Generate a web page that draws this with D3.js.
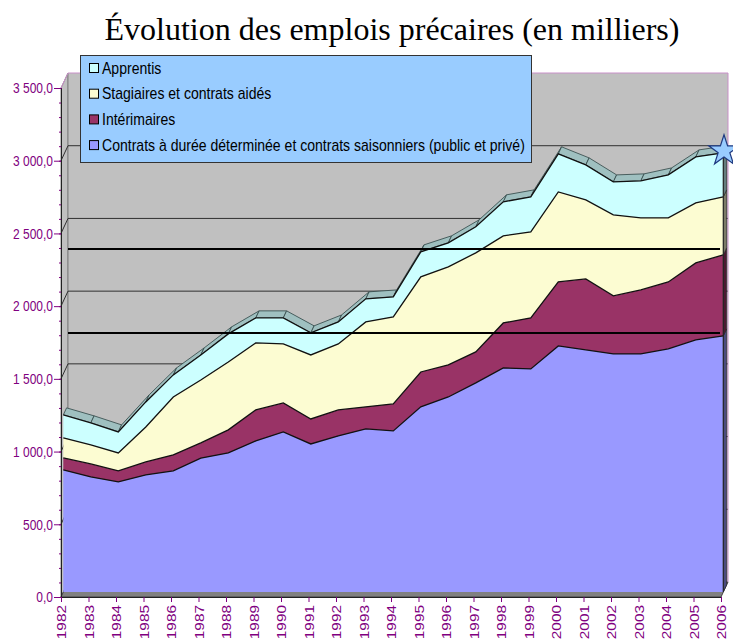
<!DOCTYPE html>
<html>
<head>
<meta charset="utf-8">
<script src="https://cdnjs.cloudflare.com/ajax/libs/d3/7.8.5/d3.min.js"></script>
<style>
    body { margin: 0; background: #fff; }
    svg { display: block; }
</style>
</head>
<body>
<svg></svg>
<script>
let years = [1982, 1983, 1984, 1985, 1986, 1987, 1988, 1989, 1990, 1991, 1992, 1993,
    1994, 1995, 1996, 1997, 1998, 1999, 2000, 2001, 2002, 2003, 2004, 2005, 2006];
let cdd = [839, 791, 757, 805, 833, 920, 956, 1039, 1101, 1018, 1073, 1121,
    1108, 1273, 1341, 1438, 1541, 1534, 1692, 1665, 1637, 1637, 1672, 1734, 1761];
let interimaires = [83, 90, 76, 89, 110, 105, 159, 213, 199, 172, 179, 152,
    185, 240, 221, 213, 309, 351, 440, 488, 399, 440, 460, 529, 557];
let stagiaires = [138, 130, 123, 241, 398, 433, 467, 461, 406, 440, 454, 584,
    599, 654, 674, 681, 599, 591, 619, 543, 557, 496, 441, 413, 399];
let apprentis = [158, 152, 145, 172, 152, 172, 193, 172, 179, 152, 151, 159,
    137, 172, 165, 179, 234, 241, 262, 241, 227, 254, 295, 316, 303];

let seriesKeys = ['cdd', 'interimaires', 'stagiaires', 'apprentis'];
let seriesNames = [
    'Contrats à durée déterminée et contrats saisonniers (public et privé)',
    'Intérimaires',
    'Stagiaires et contrats aidés',
    'Apprentis',
];
let seriesColors = ['#9999ff', '#993366', '#fcfcd2', '#ccffff'];
let yTicks = [0, 500, 1000, 1500, 2000, 2500, 3000, 3500];
let reperes = [1815, 2393]; // traits noirs ajoutés sur le graphique

let width = 733;
let height = 641;
let purple = '#800080';
let font = '"Liberation Sans", Arial, sans-serif';

// décalages de profondeur (pseudo 3D)
let wall = { dx: 7, dy: -15 };
let front = { dx: 2.3, dy: -5 };
let back = { dx: 5.6, dy: -12 };

let svg = d3.select('svg').attr('width', width).attr('height', height);

let xScale = d3.scaleLinear().domain([1982, 2006]).range([61, 721]);
let yScale = d3.scaleLinear().domain([0, 3500]).range([597, 88]);

let table = years.map((year, i) => ({
    year: year,
    cdd: cdd[i],
    interimaires: interimaires[i],
    stagiaires: stagiaires[i],
    apprentis: apprentis[i],
}));
let stacked = d3.stack().keys(seriesKeys)(table);

let fr = d3.formatLocale({ decimal: ',', thousands: '\u00a0', grouping: [3] });

// titre
svg.append('text')
    .attr('x', 392)
    .attr('y', 40)
    .attr('text-anchor', 'middle')
    .style('font-family', '"Liberation Serif", "Times New Roman", serif')
    .style('font-size', '32px')
    .text('Évolution des emplois précaires (en milliers)');

// parois
let x0 = xScale(1982);
let x1 = xScale(2006);
let yBottom = yScale(0);
let yTop = yScale(3500);

svg.append('polygon')
    .attr('points', [[x0, yBottom], [x0, yTop], [x0 + wall.dx, yTop + wall.dy], [x0 + wall.dx, yBottom + wall.dy]].join(' '))
    .attr('fill', '#c0c0c0')
    .attr('stroke', '#808080');

svg.append('rect')
    .attr('x', x0 + wall.dx)
    .attr('y', yTop + wall.dy)
    .attr('width', x1 - x0)
    .attr('height', yBottom - yTop)
    .attr('fill', '#c0c0c0');

svg.append('line')
    .attr('x1', x0 + wall.dx).attr('x2', x0 + wall.dx)
    .attr('y1', yTop + wall.dy).attr('y2', yBottom + wall.dy)
    .attr('stroke', '#808080');

svg.append('polygon')
    .attr('points', [[x0, yBottom], [x1, yBottom], [x1 + wall.dx, yBottom + wall.dy], [x0 + wall.dx, yBottom + wall.dy]].join(' '))
    .attr('fill', '#808080')
    .attr('stroke', '#404040');

// quadrillage
let grid = svg.append('g');
yTicks.filter((v) => v > 0).forEach((v) => {
    let c = v === 3500 ? '#c890c8' : '#303030';
    grid.append('line')
        .attr('x1', x0 + wall.dx).attr('x2', x1 + wall.dx)
        .attr('y1', yScale(v) + wall.dy).attr('y2', yScale(v) + wall.dy)
        .attr('stroke', c);
    grid.append('line')
        .attr('x1', x0).attr('x2', x0 + wall.dx)
        .attr('y1', yScale(v)).attr('y2', yScale(v) + wall.dy)
        .attr('stroke', c);
});
grid.append('line')
    .attr('x1', x1 + wall.dx).attr('x2', x1 + wall.dx)
    .attr('y1', yTop + wall.dy).attr('y2', yBottom + wall.dy)
    .attr('stroke', '#c890c8');

// séries
let px = (d) => xScale(d.data.year);
let last = stacked[0].length - 1;

let sides = svg.append('g');
stacked.forEach((layer, k) => {
    let d = layer[last];
    let x = px(d);
    sides.append('polygon')
        .attr('points', [
            [x + front.dx, yScale(d[0]) + front.dy],
            [x + front.dx, yScale(d[1]) + front.dy],
            [x + back.dx, yScale(d[1]) + back.dy],
            [x + back.dx, yScale(d[0]) + back.dy],
        ].join(' '))
        .attr('fill', d3.color(seriesColors[k]).darker(2))
        .attr('stroke', '#222')
        .attr('stroke-width', 0.6);
});

let topLayer = stacked[stacked.length - 1];
let band = svg.append('g');
topLayer.slice(0, -1).forEach((d, i) => {
    let e = topLayer[i + 1];
    band.append('polygon')
        .attr('points', [
            [px(d) + front.dx, yScale(d[1]) + front.dy],
            [px(e) + front.dx, yScale(e[1]) + front.dy],
            [px(e) + back.dx, yScale(e[1]) + back.dy],
            [px(d) + back.dx, yScale(d[1]) + back.dy],
        ].join(' '))
        .attr('fill', '#9fc0c0')
        .attr('stroke', '#2f4444')
        .attr('stroke-width', 0.8);
});

let area = d3.area()
    .x((d) => px(d) + front.dx)
    .y0((d) => yScale(d[0]) + front.dy)
    .y1((d) => yScale(d[1]) + front.dy);

let topLine = d3.line()
    .x((d) => px(d) + front.dx)
    .y((d) => yScale(d[1]) + front.dy);

svg.selectAll('.layer')
    .data(stacked)
    .enter()
    .append('path')
    .attr('class', 'layer')
    .attr('d', area)
    .attr('fill', (d, k) => seriesColors[k]);

svg.selectAll('.edge')
    .data(stacked)
    .enter()
    .append('path')
    .attr('class', 'edge')
    .attr('d', topLine)
    .attr('fill', 'none')
    .attr('stroke', '#111')
    .attr('stroke-width', 1.3);

svg.append('line')
    .attr('x1', x1 + front.dx).attr('x2', x1 + front.dx)
    .attr('y1', yBottom + front.dy)
    .attr('y2', yScale(topLayer[last][1]) + front.dy)
    .attr('stroke', '#222')
    .attr('stroke-width', 1.2);

// traits de repère
svg.selectAll('.repere')
    .data(reperes)
    .enter()
    .append('line')
    .attr('class', 'repere')
    .attr('x1', x0 + wall.dx)
    .attr('x2', x1 - 1)
    .attr('y1', (d) => yScale(d))
    .attr('y2', (d) => yScale(d))
    .attr('stroke', '#000')
    .attr('stroke-width', 2);

// axes
let yAxisMinor = d3.axisLeft(yScale)
    .tickValues(d3.range(0, 3501, 100))
    .tickSize(3)
    .tickSizeOuter(0)
    .tickFormat('');
let yAxis = d3.axisLeft(yScale)
    .tickValues(yTicks)
    .tickSize(7)
    .tickSizeOuter(0)
    .tickFormat(fr.format(',.1f'));
let xAxis = d3.axisBottom(xScale)
    .tickValues(years)
    .tickSize(5)
    .tickSizeOuter(0)
    .tickFormat(d3.format('d'));

let gMinor = svg.append('g')
    .attr('transform', `translate(${x0 + 1}, 0)`)
    .call(yAxisMinor);
gMinor.select('.domain').remove();
gMinor.selectAll('line').attr('stroke', purple);

let gy = svg.append('g')
    .attr('transform', `translate(${x0}, 0)`)
    .call(yAxis);
gy.select('.domain').attr('stroke', '#222');
gy.selectAll('line').attr('stroke', purple);
gy.selectAll('text')
    .attr('x', 0)
    .attr('transform', 'translate(-8,0) scale(0.8,1)')
    .attr('fill', purple)
    .style('font-family', font)
    .style('font-size', '15px');

let gx = svg.append('g')
    .attr('transform', `translate(0, ${yBottom})`)
    .call(xAxis);
gx.select('.domain').attr('stroke', '#222');
gx.selectAll('line').attr('stroke', purple);
gx.selectAll('text')
    .attr('x', 0)
    .attr('y', 0)
    .attr('dy', '0.36em')
    .attr('text-anchor', 'end')
    .attr('transform', 'translate(0,8) rotate(-90) scale(1.14,1)')
    .attr('fill', purple)
    .style('font-family', font)
    .style('font-size', '13.5px');

// légende
let legend = svg.append('g');
legend.append('rect')
    .attr('x', 80.5)
    .attr('y', 55.5)
    .attr('width', 451)
    .attr('height', 107)
    .attr('fill', '#99ccff')
    .attr('stroke', '#333');

let legendOrder = [3, 2, 1, 0];
let rows = legend.selectAll('.item')
    .data(legendOrder)
    .enter()
    .append('g')
    .attr('class', 'item')
    .attr('transform', (k, i) => `translate(0, ${68 + i * 25.7})`);

rows.append('rect')
    .attr('x', 89.5)
    .attr('y', -4.5)
    .attr('width', 9)
    .attr('height', 9)
    .attr('fill', (k) => seriesColors[k])
    .attr('stroke', '#000');

let labels = rows.append('text')
    .attr('x', 0)
    .attr('dy', '0.36em')
    .style('font-family', font)
    .style('font-size', '16px')
    .text((k) => seriesNames[k]);

let widest = d3.max(labels.nodes(), (n) => n.getComputedTextLength());
let squeeze = 423 / widest;
labels.attr('transform', `translate(102,0) scale(${squeeze},1)`);

// étoile
let tip = topLayer[last];
svg.append('path')
    .attr('d', d3.symbol(d3.symbolStar, 290)())
    .attr('transform', `translate(${px(tip) + 3}, ${yScale(tip[1]) - 7})`)
    .attr('fill', '#99ccff')
    .attr('stroke', '#1f3a80')
    .attr('stroke-width', 1.2);
</script>
</body>
</html>
